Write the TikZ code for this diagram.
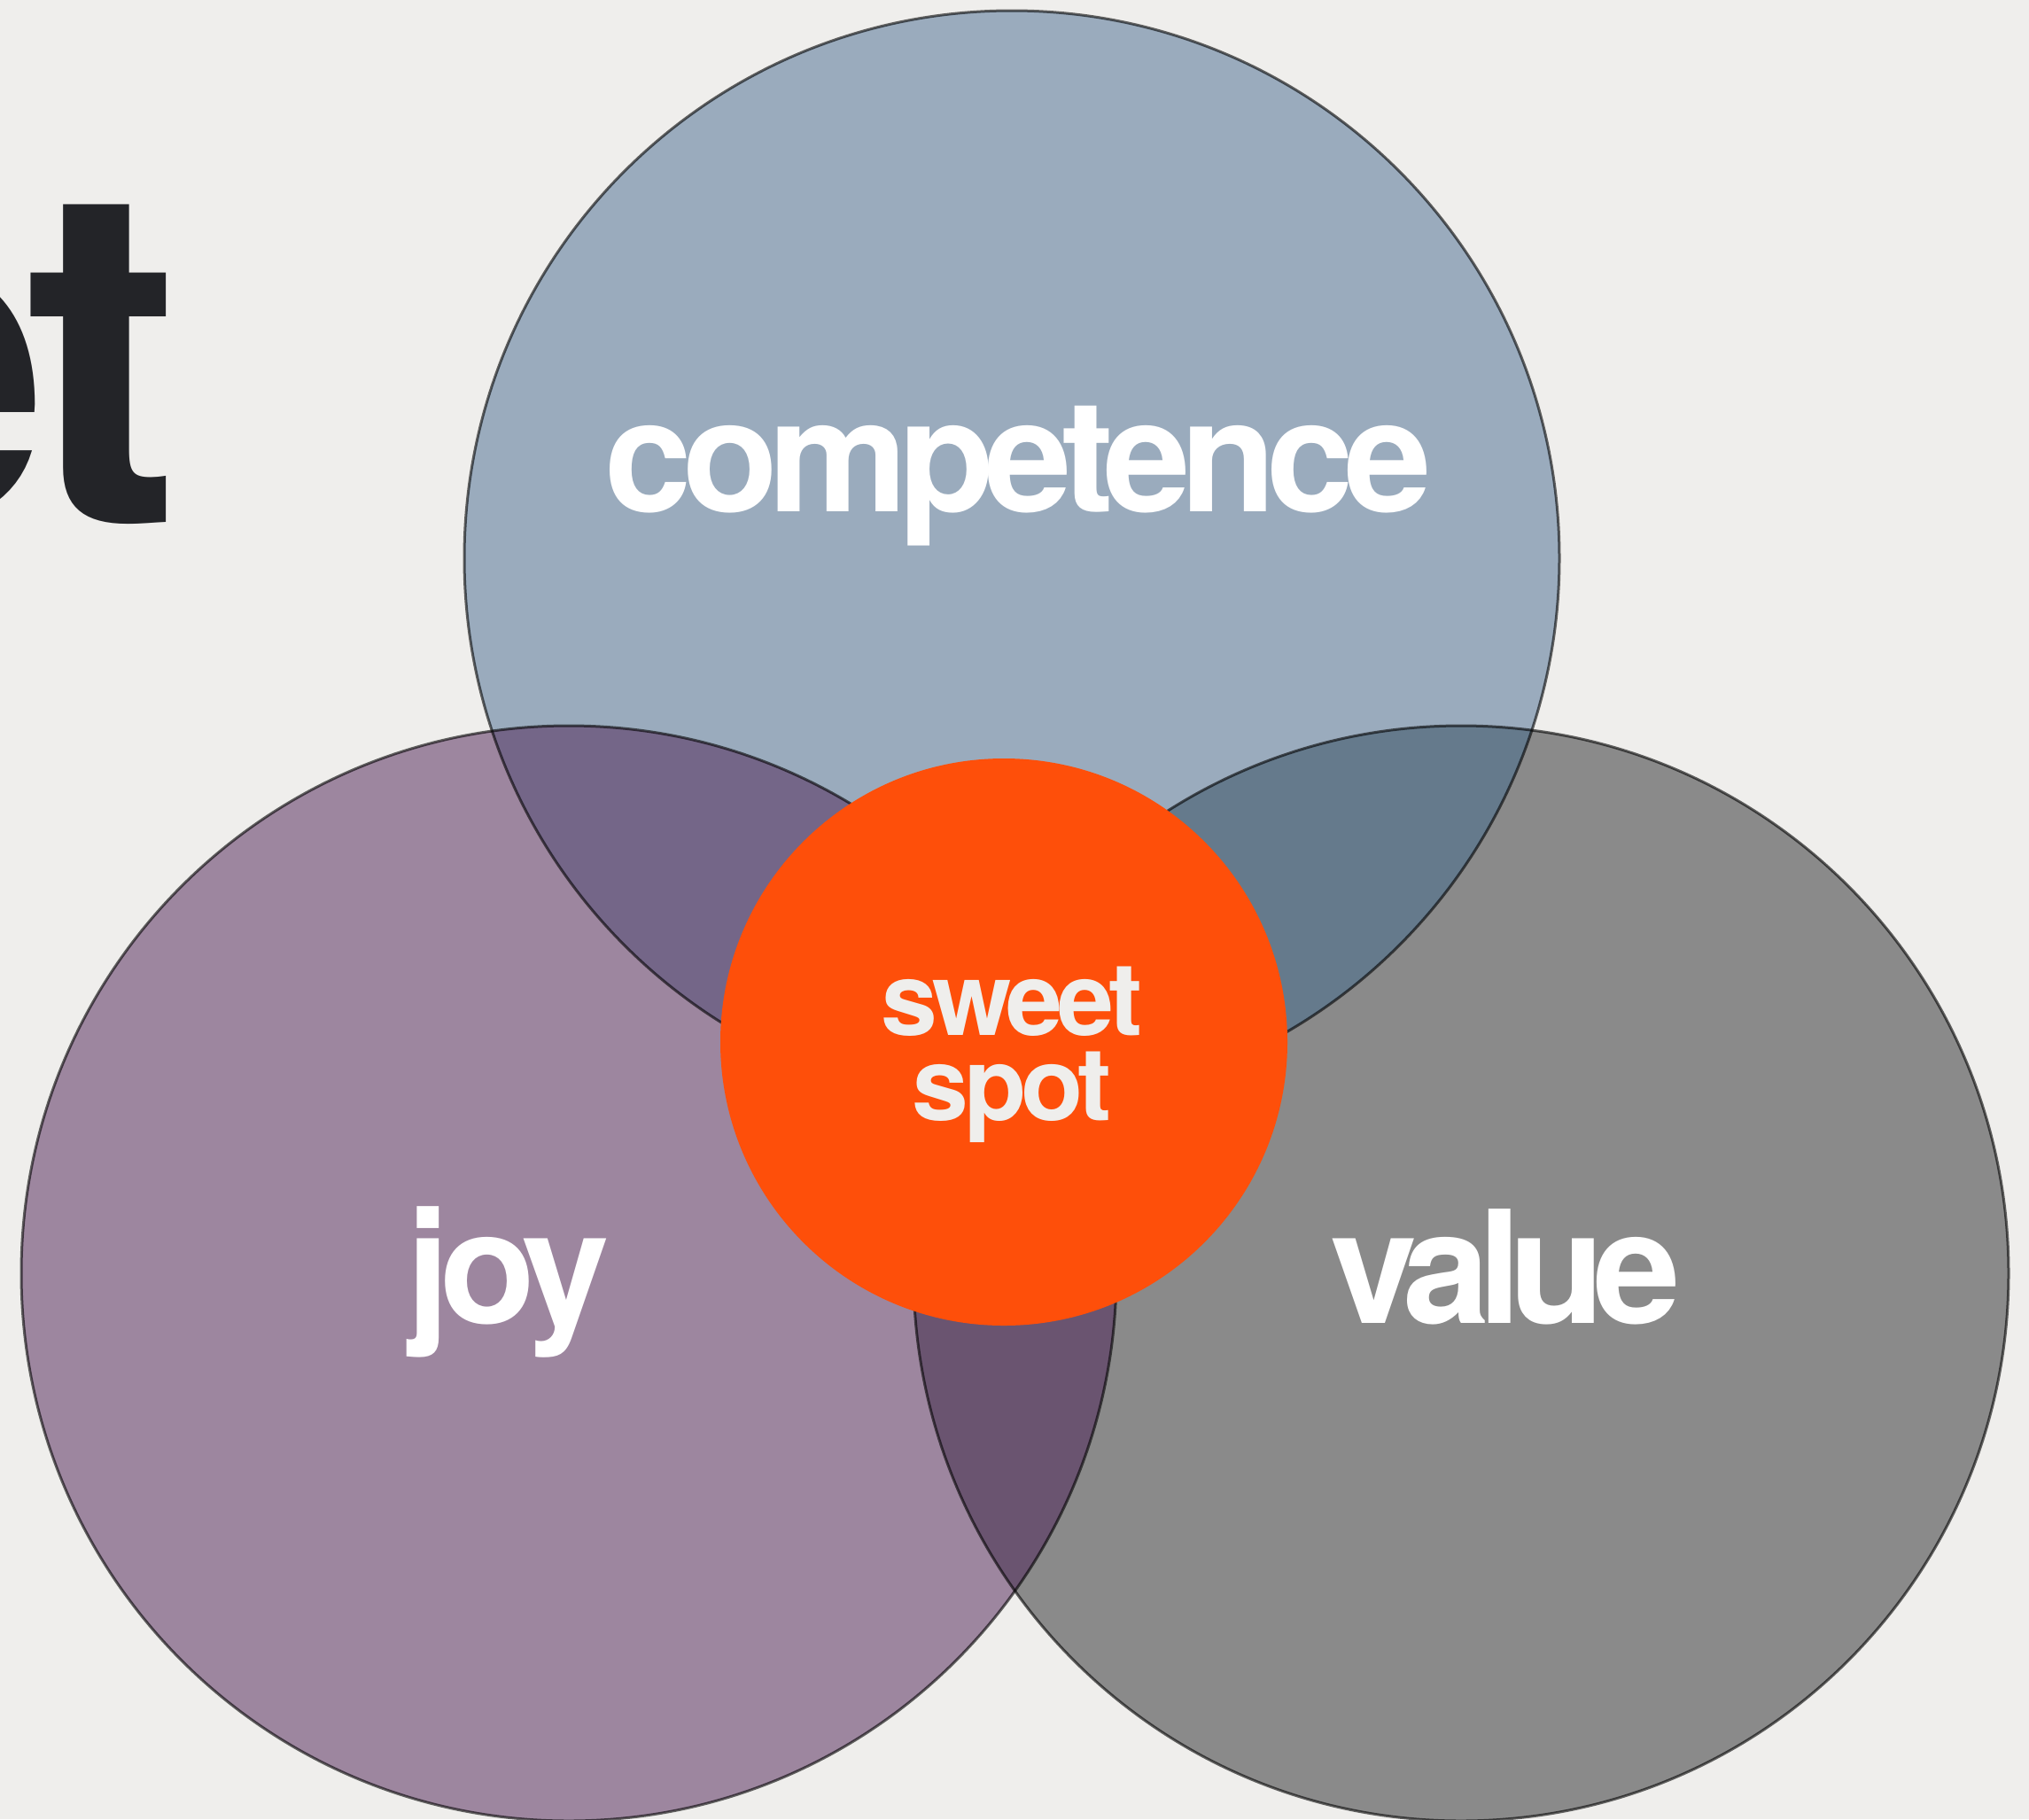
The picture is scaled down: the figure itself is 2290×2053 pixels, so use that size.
\documentclass[tikz,border=0pt]{standalone}
\usepackage{fontspec}
\setmainfont{TeX Gyre Heros}
\newfontfamily\lblfont[LetterSpace=-5]{TeX Gyre Heros}
\newfontfamily\compfont[LetterSpace=-6.2]{TeX Gyre Heros}
\newfontfamily\joyfont[LetterSpace=-6.7]{TeX Gyre Heros}
\newfontfamily\valfont[LetterSpace=-7.7]{TeX Gyre Heros}
\definecolor{bgc}{HTML}{EFEEEC}
\definecolor{compc}{HTML}{9AABBD}
\definecolor{joyc}{HTML}{9D869F}
\definecolor{valc}{HTML}{8A8A8A}
\definecolor{cjc}{HTML}{746688}
\definecolor{cvc}{HTML}{657A8C}
\definecolor{jvc}{HTML}{6A5470}
\definecolor{orangec}{HTML}{FE4F0A}
\definecolor{darkc}{HTML}{232428}
\begin{document}
\begin{tikzpicture}[x=1pt,y=-1pt,
  ring/.style={draw=black,draw opacity=0.6,line width=3pt},
  lab/.style={text=white,inner sep=0pt,anchor=base},
  sweetlab/.style={text=bgc,font=\lblfont\bfseries\fontsize{115}{96}\selectfont,inner sep=0pt,align=center,anchor=base},
  titlelab/.style={text=darkc,font=\lblfont\bfseries\fontsize{532}{532}\selectfont,inner sep=0pt,anchor=base east}]
\fill[bgc] (0,0) rectangle (2290,2053);
\useasboundingbox (0,0) rectangle (2290,2053);
\clip (0,0) rectangle (2290,2053);
\coordinate (cC) at (1142,630);
\coordinate (cJ) at (642,1437);
\coordinate (cV) at (1649,1437);
\coordinate (cS) at (1133,1176);
% title fragment
\node[titlelab] (title) at (204,589) {et};
% circles
\fill[compc] (cC) circle[radius=618pt];
\fill[joyc] (cJ) circle[radius=618pt];
\fill[valc] (cV) circle[radius=618pt];
\begin{scope}
  \clip (cC) circle[radius=618pt];
  \fill[cjc] (cJ) circle[radius=618pt];
  \fill[cvc] (cV) circle[radius=618pt];
\end{scope}
\begin{scope}
  \clip (cJ) circle[radius=618pt];
  \fill[jvc] (cV) circle[radius=618pt];
\end{scope}
\draw[ring] (cC) circle[radius=618pt];
\draw[ring] (cJ) circle[radius=618pt];
\draw[ring] (cV) circle[radius=618pt];
\fill[orangec] (cS) circle[radius=320pt];
% labels
\node[lab,font=\compfont\bfseries\fontsize{177}{177}\selectfont] (comp) at (1149,577) {competence};
\node[lab,font=\joyfont\bfseries\fontsize{177}{177}\selectfont] (joy) at (573,1493) {joy};
\node[lab,font=\valfont\bfseries\fontsize{177}{177}\selectfont] (value) at (1699,1493) {value};
\node[sweetlab] (sweet) at (1142,1264) {sweet\\spot};
\end{tikzpicture}
\end{document}
